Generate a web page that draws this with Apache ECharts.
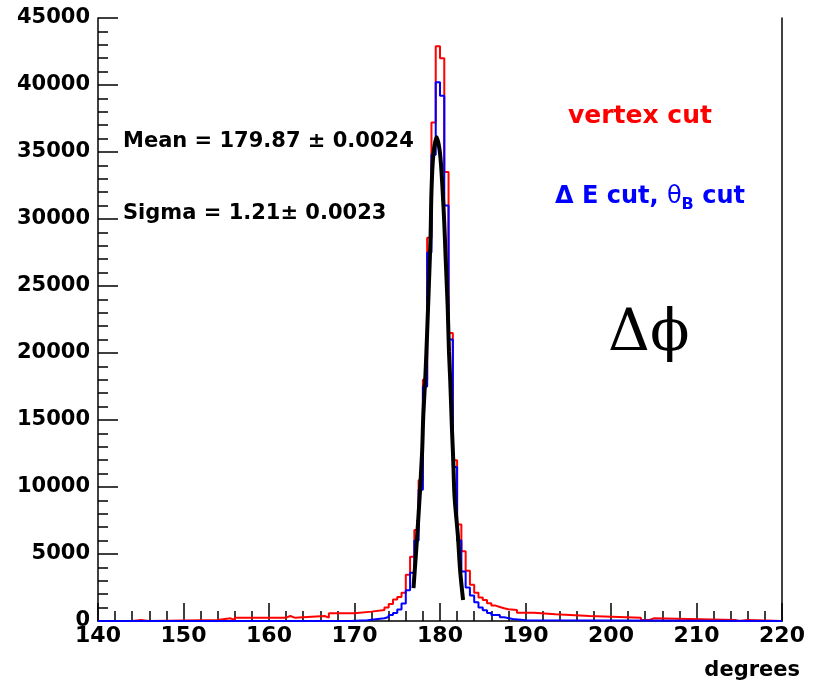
<!DOCTYPE html>
<html>
<head>
<meta charset="utf-8">
<script src="https://cdn.jsdelivr.net/npm/echarts@6/dist/echarts.min.js"></script>
<style>
  html, body { margin: 0; padding: 0; background: #fff; }
  #chart { width: 815px; height: 687px; }
</style>
</head>
<body>
<div id="chart"></div>
<script>
// Delta-phi histograms (variable-width bins: edges + counts), degrees
const redEdges = [140, 144, 145, 146, 154, 155.5, 156, 162, 162.5, 163, 166.5, 167, 170, 172, 173.5, 174, 174.5, 175, 175.5, 176, 176.5, 177, 177.5,
  178, 178.5, 179, 179.5, 180, 180.5, 181, 181.5, 182, 182.5, 183, 183.5, 184, 184.5, 185, 185.5, 186, 186.5, 187, 187.5,
  188, 189, 191, 193.5, 197.5, 203.5, 204.5, 205, 214.5, 215, 216, 220];
const redCounts = [0, 75, 0, 75, 200, 75, 250, 370, 250, 370, 250, 570, 700, 820, 1000, 1270, 1600, 1800, 2100, 3450, 4800, 6800,
  10500, 18000, 28600, 37200, 42900, 42000, 33500, 21500, 12000, 7200, 5200, 3750, 2700, 2100, 1750, 1570, 1320, 1150, 1050, 950,
  880, 820, 620, 500, 370, 250, 75, 200, 75, 0, 75, 0];

const blueEdges = [140, 169.5, 171.5, 172.5, 173.5, 174, 174.5, 175, 175.5, 176, 176.5, 177, 177.5, 178, 178.5, 179, 179.5,
  180, 180.5, 181, 181.5, 182, 182.5, 183, 183.5, 184, 184.5, 185, 185.5, 186, 187, 187.5, 188.5, 190, 220];
const blueCounts = [0, 60, 130, 200, 300, 450, 600, 850, 1300, 2300, 3600, 6000, 9800, 17500, 27500, 34800, 40200,
  39200, 31000, 21000, 11500, 6000, 3700, 2500, 1900, 1400, 1000, 800, 600, 450, 280, 150, 60, 0];

// Gaussian fit curve, sampled points
const fitX = [176.9, 177.45, 177.9, 178.05, 178.3, 178.5, 178.7, 178.9, 179.0, 179.2, 179.6, 180.0, 180.3, 180.5,
  180.66, 180.9, 181.05, 181.2, 181.4, 181.55, 181.7, 182.1, 182.35, 182.7];
const fitY = [2460, 7500, 12500, 15400, 18400, 21600, 25100, 28800, 32000, 34650, 36100, 34900, 32200, 29700,
  27100, 23400, 20100, 17900, 14300, 12000, 9300, 6300, 3800, 1570];

const xTicks = { min: 140, max: 220, step: 10 };
const yTicks = { min: 0, max: 45000, step: 5000 };

// Build step-line points: one point per bin low edge, plus the closing edge
function histPoints(edges, counts) {
  const pts = counts.map((c, i) => [edges[i], c]);
  pts.push([edges[edges.length - 1], counts[counts.length - 1]]);
  return pts;
}

const FONT = 'DejaVu Sans';
const blackLine = { color: '#000', width: 1.5 };

const chart = echarts.init(document.getElementById('chart'), null, { renderer: 'canvas' });
chart.setOption({
  animation: false,
  backgroundColor: '#fff',
  grid: { left: 98, right: 33, top: 18, bottom: 66 },
  xAxis: {
    type: 'value', min: xTicks.min, max: xTicks.max, interval: xTicks.step,
    axisLine: { onZero: false, lineStyle: blackLine },
    axisTick: { inside: true, length: 18, lineStyle: blackLine },
    minorTick: { show: true, splitNumber: 5, length: 10, lineStyle: blackLine },
    axisLabel: { margin: 4, color: '#000', fontFamily: FONT, fontWeight: 'bold', fontSize: 22, formatter: v => String(v) },
    splitLine: { show: false }
  },
  yAxis: [{
    type: 'value', min: yTicks.min, max: yTicks.max, interval: yTicks.step,
    axisLine: { show: true, lineStyle: blackLine },
    axisTick: { inside: true, length: 20, lineStyle: blackLine },
    minorTick: { show: true, splitNumber: 5, length: 10, lineStyle: blackLine },
    axisLabel: { margin: 8, color: '#000', fontFamily: FONT, fontWeight: 'bold', fontSize: 21, formatter: v => String(v) },
    splitLine: { show: false }
  }, {
    type: 'value', position: 'right', min: yTicks.min, max: yTicks.max,
    axisLine: { show: true, lineStyle: blackLine },
    axisTick: { show: false }, axisLabel: { show: false }, splitLine: { show: false }
  }],
  series: [{
    name: 'vertex cut', type: 'line', step: 'end', symbol: 'none', z: 2,
    data: histPoints(redEdges, redCounts),
    lineStyle: { color: '#ff0000', width: 2 }
  }, {
    name: 'dE cut, thetaB cut', type: 'line', step: 'end', symbol: 'none', z: 3,
    data: histPoints(blueEdges, blueCounts),
    lineStyle: { color: '#0000ff', width: 2 }
  }, {
    name: 'fit', type: 'line', symbol: 'none', smooth: 0.3, z: 4,
    data: fitX.map((x, i) => [x, fitY[i]]),
    lineStyle: { color: '#000', width: 4 }
  }],
  graphic: [
    { type: 'text', left: 123, top: 131, style: { text: 'Mean = 179.87 \u00b1 0.0024', font: 'bold 21px "DejaVu Sans"', fill: '#000' } },
    { type: 'text', left: 123, top: 203, style: { text: 'Sigma = 1.21\u00b1 0.0023', font: 'bold 21px "DejaVu Sans"', fill: '#000' } },
    { type: 'text', left: 568, top: 104, style: { text: 'vertex cut', font: 'bold 25px "DejaVu Sans"', fill: '#ff0000' } },
    { type: 'text', left: 555, top: 185, style: {
        text: '\u0394 E cut, {g|\u03b8}{sub|B} cut', font: 'bold 24px "DejaVu Sans"', fill: '#0000ff',
        rich: {
          g: { font: '24px "DejaVu Sans"', fill: '#0000ff' },
          sub: { font: 'bold 16px "DejaVu Sans"', fill: '#0000ff', padding: [16, 0, 0, 0] }
        }
    } },
    { type: 'text', left: 608, top: 306, style: { text: '\u0394\u03d5', font: '58px "DejaVu Serif"', fill: '#000' } },
    { type: 'text', right: 15, top: 660, style: { text: 'degrees', font: 'bold 21px "DejaVu Sans"', fill: '#000' } }
  ]
});
</script>
</body>
</html>
